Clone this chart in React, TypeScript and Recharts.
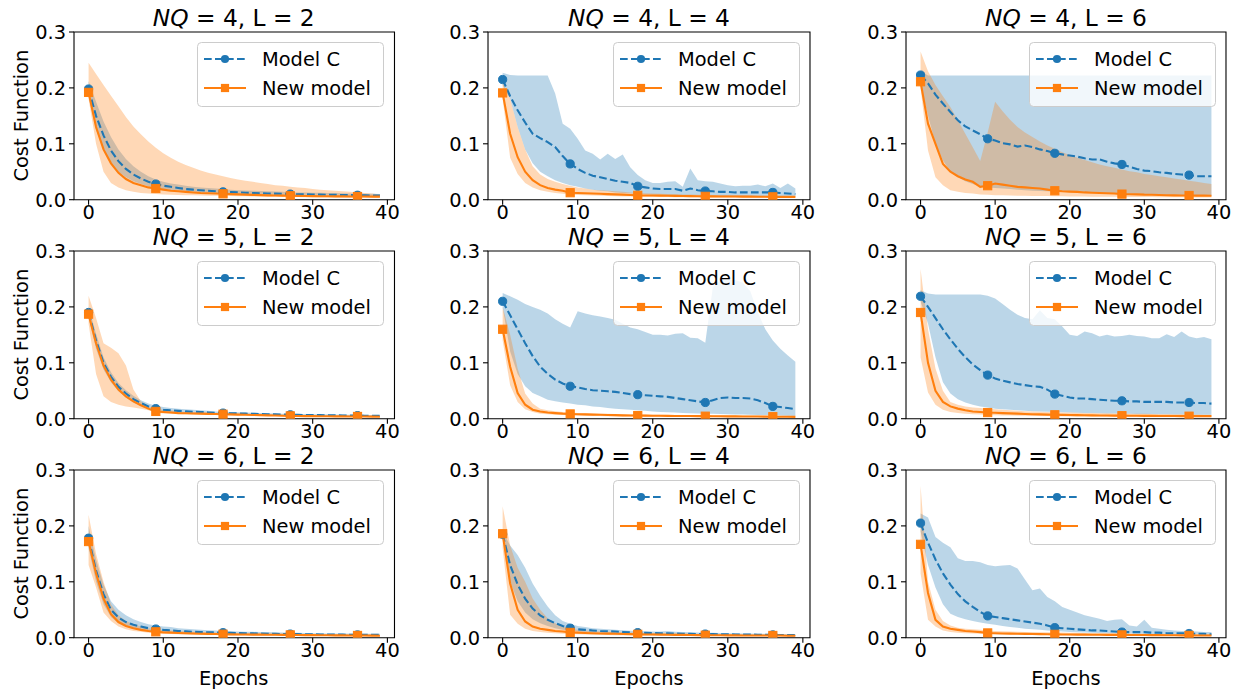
import React from 'react';
import { ComposedChart, Area, Line, XAxis, YAxis, ReferenceArea } from 'recharts';

// epochs shared by every panel
const epochs = [0, 1, 2, 3, 4, 5, 6, 7, 8, 9, 10, 11, 12, 13, 14, 15, 16, 17, 18, 19, 20, 21, 22, 23, 24, 25, 26, 27, 28, 29, 30, 31, 32, 33, 34, 35, 36, 37, 38, 39];
const xTicks = [0, 10, 20, 30, 40];
const yTicks = [0, 0.1, 0.2, 0.3];
const nqValues = [4, 5, 6];
const layerValues = [2, 4, 6];

// NQ = 4, L = 2
const c42 = [0.198, 0.150, 0.115, 0.088, 0.069, 0.055, 0.045, 0.038, 0.032, 0.028, 0.025, 0.023, 0.021, 0.019, 0.018, 0.017, 0.016, 0.015, 0.014, 0.0135, 0.013, 0.0125, 0.012, 0.0115, 0.011, 0.0108, 0.0105, 0.010, 0.0098, 0.0095, 0.0092, 0.009, 0.0088, 0.0086, 0.0084, 0.0082, 0.008, 0.0078, 0.0075, 0.0072];
const c42Lo = [0.185, 0.125, 0.09, 0.066, 0.05, 0.04, 0.033, 0.028, 0.024, 0.021, 0.019, 0.017, 0.016, 0.015, 0.014, 0.013, 0.012, 0.0115, 0.011, 0.0105, 0.010, 0.0098, 0.0095, 0.0092, 0.009, 0.0088, 0.0085, 0.0082, 0.008, 0.0078, 0.0076, 0.0074, 0.0072, 0.007, 0.0068, 0.0066, 0.0064, 0.0062, 0.006, 0.0058];
const c42Hi = [0.212, 0.175, 0.14, 0.112, 0.09, 0.073, 0.06, 0.05, 0.042, 0.036, 0.032, 0.029, 0.027, 0.025, 0.023, 0.022, 0.021, 0.02, 0.019, 0.018, 0.017, 0.0165, 0.016, 0.0155, 0.015, 0.0145, 0.014, 0.0135, 0.013, 0.0128, 0.0125, 0.0122, 0.012, 0.0118, 0.0115, 0.0112, 0.011, 0.0108, 0.0105, 0.0102];
const n42 = [0.192, 0.130, 0.090, 0.065, 0.048, 0.037, 0.030, 0.026, 0.022, 0.020, 0.018, 0.016, 0.015, 0.014, 0.013, 0.012, 0.0115, 0.011, 0.0105, 0.010, 0.0095, 0.009, 0.0086, 0.0082, 0.0078, 0.0075, 0.0072, 0.007, 0.0068, 0.0066, 0.0064, 0.0062, 0.0061, 0.006, 0.0059, 0.0058, 0.0057, 0.0056, 0.0055, 0.0054];
const n42Lo = [0.180, 0.100, 0.050, 0.030, 0.022, 0.017, 0.014, 0.012, 0.011, 0.010, 0.0095, 0.009, 0.0085, 0.008, 0.0078, 0.0075, 0.0072, 0.007, 0.0068, 0.0065, 0.0062, 0.006, 0.0058, 0.0056, 0.0054, 0.0052, 0.005, 0.0048, 0.0046, 0.0044, 0.0042, 0.004, 0.0039, 0.0038, 0.0037, 0.0036, 0.0035, 0.0034, 0.0033, 0.0032];
const n42Hi = [0.245, 0.225, 0.205, 0.186, 0.167, 0.148, 0.131, 0.117, 0.104, 0.093, 0.083, 0.075, 0.068, 0.062, 0.057, 0.052, 0.048, 0.045, 0.042, 0.039, 0.036, 0.034, 0.032, 0.030, 0.028, 0.026, 0.025, 0.023, 0.022, 0.021, 0.019, 0.018, 0.017, 0.016, 0.015, 0.014, 0.013, 0.012, 0.011, 0.0095];

// NQ = 4, L = 4
const c44 = [0.215, 0.185, 0.160, 0.138, 0.118, 0.110, 0.103, 0.094, 0.078, 0.064, 0.055, 0.048, 0.043, 0.040, 0.037, 0.034, 0.032, 0.030, 0.024, 0.022, 0.020, 0.019, 0.019, 0.019, 0.016, 0.020, 0.017, 0.0155, 0.015, 0.014, 0.014, 0.013, 0.013, 0.013, 0.013, 0.013, 0.013, 0.012, 0.011, 0.010];
const c44Lo = [0.205, 0.18, 0.13, 0.09, 0.065, 0.05, 0.042, 0.035, 0.03, 0.026, 0.023, 0.02, 0.018, 0.016, 0.015, 0.013, 0.012, 0.011, 0.010, 0.0095, 0.009, 0.0088, 0.0085, 0.0082, 0.008, 0.0078, 0.0075, 0.0072, 0.007, 0.0068, 0.0066, 0.0064, 0.0062, 0.006, 0.0058, 0.0056, 0.0055, 0.0054, 0.0053, 0.0052];
const c44Hi = [0.227, 0.223, 0.222, 0.222, 0.222, 0.222, 0.222, 0.19, 0.136, 0.127, 0.109, 0.088, 0.082, 0.072, 0.082, 0.073, 0.081, 0.058, 0.044, 0.035, 0.030, 0.030, 0.032, 0.033, 0.023, 0.056, 0.035, 0.033, 0.032, 0.029, 0.026, 0.024, 0.025, 0.025, 0.027, 0.024, 0.029, 0.021, 0.029, 0.020];
const n44 = [0.191, 0.118, 0.076, 0.050, 0.035, 0.026, 0.021, 0.018, 0.016, 0.0125, 0.012, 0.0115, 0.011, 0.0105, 0.010, 0.0095, 0.009, 0.0085, 0.0078, 0.0076, 0.0074, 0.0072, 0.007, 0.0068, 0.0066, 0.0064, 0.0062, 0.006, 0.0059, 0.0058, 0.0057, 0.0056, 0.0055, 0.0054, 0.0053, 0.0052, 0.0051, 0.005, 0.005, 0.005];
const n44Lo = [0.18, 0.075, 0.046, 0.03, 0.022, 0.017, 0.014, 0.012, 0.0105, 0.009, 0.0085, 0.008, 0.0075, 0.007, 0.0065, 0.006, 0.0058, 0.0056, 0.0054, 0.0052, 0.005, 0.0048, 0.0046, 0.0045, 0.0044, 0.0043, 0.0042, 0.0041, 0.004, 0.004, 0.0039, 0.0038, 0.0038, 0.0037, 0.0036, 0.0036, 0.0035, 0.0035, 0.0034, 0.0034];
const n44Hi = [0.21, 0.18, 0.13, 0.09, 0.06, 0.045, 0.037, 0.032, 0.028, 0.025, 0.022, 0.02, 0.018, 0.017, 0.016, 0.015, 0.014, 0.013, 0.012, 0.0115, 0.011, 0.0105, 0.01, 0.0098, 0.0095, 0.0092, 0.009, 0.0088, 0.0086, 0.0084, 0.0082, 0.008, 0.0078, 0.0076, 0.0074, 0.0072, 0.007, 0.0068, 0.0066, 0.0065];

// NQ = 4, L = 6
const c46 = [0.223, 0.208, 0.188, 0.172, 0.157, 0.142, 0.131, 0.124, 0.117, 0.109, 0.106, 0.101, 0.099, 0.095, 0.097, 0.094, 0.090, 0.087, 0.083, 0.081, 0.079, 0.077, 0.074, 0.072, 0.072, 0.068, 0.065, 0.063, 0.059, 0.055, 0.052, 0.051, 0.049, 0.048, 0.046, 0.045, 0.044, 0.042, 0.042, 0.042];
const c46Lo = [0.205, 0.15, 0.10, 0.07, 0.05, 0.04, 0.033, 0.028, 0.024, 0.022, 0.021, 0.02, 0.019, 0.018, 0.017, 0.016, 0.0155, 0.015, 0.0145, 0.014, 0.0135, 0.013, 0.0125, 0.012, 0.0115, 0.011, 0.0105, 0.010, 0.0098, 0.0095, 0.0092, 0.009, 0.0085, 0.008, 0.0078, 0.0075, 0.0072, 0.007, 0.0068, 0.0065];
const c46Hi = [0.23, 0.222, 0.222, 0.222, 0.222, 0.222, 0.222, 0.222, 0.222, 0.222, 0.222, 0.222, 0.222, 0.222, 0.222, 0.222, 0.222, 0.222, 0.222, 0.222, 0.222, 0.222, 0.222, 0.222, 0.222, 0.222, 0.222, 0.222, 0.222, 0.222, 0.222, 0.222, 0.222, 0.222, 0.222, 0.222, 0.222, 0.222, 0.222, 0.222];
const n46 = [0.211, 0.136, 0.100, 0.064, 0.050, 0.042, 0.036, 0.032, 0.023, 0.025, 0.029, 0.027, 0.025, 0.023, 0.022, 0.021, 0.020, 0.018, 0.016, 0.015, 0.0145, 0.014, 0.013, 0.0125, 0.012, 0.0115, 0.011, 0.010, 0.0098, 0.0095, 0.009, 0.0088, 0.0085, 0.008, 0.0078, 0.0076, 0.0075, 0.0073, 0.0072, 0.007];
const n46Lo = [0.2, 0.088, 0.04, 0.026, 0.017, 0.014, 0.012, 0.011, 0.0095, 0.0088, 0.008, 0.0078, 0.0075, 0.0072, 0.007, 0.0068, 0.0066, 0.0064, 0.0062, 0.006, 0.0058, 0.0056, 0.0055, 0.0054, 0.0053, 0.0052, 0.0051, 0.005, 0.0049, 0.0048, 0.0047, 0.0046, 0.0045, 0.0044, 0.0043, 0.0042, 0.0041, 0.004, 0.004, 0.004];
const n46Hi = [0.265, 0.23, 0.205, 0.185, 0.166, 0.142, 0.118, 0.094, 0.069, 0.12, 0.175, 0.158, 0.143, 0.13, 0.12, 0.112, 0.104, 0.097, 0.091, 0.085, 0.080, 0.075, 0.071, 0.067, 0.063, 0.060, 0.057, 0.054, 0.051, 0.049, 0.046, 0.044, 0.042, 0.040, 0.038, 0.036, 0.034, 0.032, 0.030, 0.028];

// NQ = 5, L = 2
const c52 = [0.19, 0.14, 0.10, 0.075, 0.057, 0.045, 0.035, 0.028, 0.022, 0.018, 0.016, 0.015, 0.014, 0.013, 0.0125, 0.012, 0.0112, 0.0105, 0.010, 0.0097, 0.0094, 0.009, 0.0087, 0.0083, 0.008, 0.0077, 0.0073, 0.007, 0.0068, 0.0066, 0.0065, 0.0063, 0.0061, 0.006, 0.0058, 0.0056, 0.0055, 0.0053, 0.0052, 0.005];
const c52Lo = [0.18, 0.125, 0.088, 0.065, 0.049, 0.038, 0.029, 0.023, 0.018, 0.014, 0.012, 0.011, 0.0105, 0.01, 0.0095, 0.009, 0.0085, 0.008, 0.0075, 0.0072, 0.007, 0.0068, 0.0066, 0.0064, 0.0062, 0.006, 0.0058, 0.0056, 0.0054, 0.0052, 0.005, 0.0049, 0.0048, 0.0047, 0.0046, 0.0045, 0.0044, 0.0043, 0.0042, 0.0041];
const c52Hi = [0.2, 0.152, 0.11, 0.083, 0.064, 0.051, 0.041, 0.033, 0.027, 0.023, 0.021, 0.019, 0.018, 0.017, 0.016, 0.015, 0.014, 0.013, 0.0125, 0.012, 0.0115, 0.011, 0.0105, 0.01, 0.0097, 0.0094, 0.009, 0.0087, 0.0085, 0.0083, 0.0081, 0.008, 0.0078, 0.0076, 0.0074, 0.0072, 0.007, 0.0068, 0.0066, 0.0065];
const n52 = [0.187, 0.135, 0.095, 0.070, 0.052, 0.040, 0.031, 0.024, 0.018, 0.013, 0.012, 0.011, 0.010, 0.0097, 0.0093, 0.009, 0.0087, 0.0083, 0.008, 0.0077, 0.0073, 0.007, 0.0067, 0.0063, 0.006, 0.0057, 0.0053, 0.005, 0.0048, 0.0046, 0.0045, 0.0044, 0.0043, 0.0042, 0.0041, 0.004, 0.004, 0.0038, 0.0037, 0.0035];
const n52Lo = [0.17, 0.08, 0.04, 0.03, 0.025, 0.022, 0.02, 0.018, 0.015, 0.011, 0.0095, 0.009, 0.0085, 0.008, 0.0075, 0.007, 0.0068, 0.0065, 0.0062, 0.006, 0.0058, 0.0055, 0.0052, 0.005, 0.0048, 0.0046, 0.0044, 0.0042, 0.004, 0.0039, 0.0038, 0.0037, 0.0036, 0.0035, 0.0034, 0.0033, 0.0032, 0.0031, 0.003, 0.003];
const n52Hi = [0.22, 0.18, 0.135, 0.127, 0.117, 0.095, 0.052, 0.031, 0.022, 0.018, 0.016, 0.015, 0.013, 0.012, 0.0115, 0.011, 0.0105, 0.01, 0.0095, 0.009, 0.0087, 0.0084, 0.0081, 0.0078, 0.0075, 0.0072, 0.007, 0.0068, 0.0066, 0.0064, 0.0062, 0.006, 0.0058, 0.0056, 0.0055, 0.0054, 0.0053, 0.0052, 0.0051, 0.005];

// NQ = 5, L = 4
const c54 = [0.21, 0.185, 0.16, 0.135, 0.112, 0.093, 0.08, 0.07, 0.063, 0.058, 0.056, 0.053, 0.051, 0.050, 0.049, 0.048, 0.046, 0.044, 0.043, 0.042, 0.041, 0.040, 0.039, 0.037, 0.035, 0.033, 0.031, 0.029, 0.033, 0.037, 0.038, 0.037, 0.037, 0.036, 0.033, 0.028, 0.022, 0.021, 0.019, 0.017];
const c54Lo = [0.2, 0.12, 0.08, 0.058, 0.046, 0.04, 0.034, 0.031, 0.029, 0.027, 0.025, 0.024, 0.022, 0.021, 0.019, 0.018, 0.017, 0.016, 0.015, 0.014, 0.013, 0.012, 0.0115, 0.011, 0.01, 0.0097, 0.0094, 0.009, 0.0087, 0.0084, 0.008, 0.0077, 0.0074, 0.007, 0.0067, 0.0064, 0.006, 0.0057, 0.0054, 0.005];
const c54Hi = [0.225, 0.219, 0.213, 0.205, 0.20, 0.195, 0.188, 0.178, 0.17, 0.163, 0.192, 0.188, 0.185, 0.183, 0.18, 0.177, 0.17, 0.163, 0.16, 0.155, 0.15, 0.15, 0.149, 0.152, 0.153, 0.145, 0.144, 0.136, 0.235, 0.248, 0.248, 0.248, 0.243, 0.228, 0.19, 0.16, 0.14, 0.125, 0.113, 0.102];
const n54 = [0.16, 0.093, 0.046, 0.025, 0.016, 0.013, 0.011, 0.010, 0.009, 0.0085, 0.008, 0.0077, 0.0073, 0.007, 0.0067, 0.0064, 0.006, 0.0058, 0.0056, 0.0055, 0.0053, 0.0052, 0.005, 0.0049, 0.0048, 0.0047, 0.0046, 0.0045, 0.0044, 0.0043, 0.0042, 0.0041, 0.004, 0.0039, 0.0038, 0.0037, 0.0036, 0.0035, 0.0034, 0.0033];
const n54Lo = [0.14, 0.06, 0.03, 0.017, 0.012, 0.009, 0.008, 0.007, 0.0065, 0.006, 0.0055, 0.005, 0.0048, 0.0046, 0.0044, 0.0042, 0.004, 0.0038, 0.0036, 0.0035, 0.0034, 0.0033, 0.0032, 0.0031, 0.003, 0.003, 0.0029, 0.0028, 0.0028, 0.0027, 0.0026, 0.0026, 0.0025, 0.0025, 0.0024, 0.0024, 0.0023, 0.0023, 0.0022, 0.0022];
const n54Hi = [0.2, 0.15, 0.09, 0.045, 0.027, 0.018, 0.015, 0.0135, 0.012, 0.011, 0.010, 0.0097, 0.0094, 0.009, 0.0087, 0.0084, 0.008, 0.0078, 0.0076, 0.0074, 0.0072, 0.007, 0.0068, 0.0066, 0.0065, 0.0064, 0.0063, 0.0062, 0.0061, 0.006, 0.0059, 0.0058, 0.0057, 0.0056, 0.0055, 0.0054, 0.0053, 0.0052, 0.0051, 0.005];

// NQ = 5, L = 6
const c56 = [0.219, 0.20, 0.18, 0.16, 0.142, 0.125, 0.11, 0.097, 0.087, 0.078, 0.072, 0.068, 0.065, 0.062, 0.060, 0.058, 0.057, 0.052, 0.044, 0.041, 0.038, 0.036, 0.036, 0.035, 0.034, 0.033, 0.032, 0.032, 0.031, 0.031, 0.030, 0.030, 0.030, 0.030, 0.029, 0.029, 0.029, 0.028, 0.028, 0.027];
const c56Lo = [0.21, 0.17, 0.11, 0.065, 0.045, 0.035, 0.029, 0.025, 0.022, 0.02, 0.018, 0.017, 0.016, 0.015, 0.014, 0.0135, 0.013, 0.0125, 0.012, 0.0115, 0.011, 0.0105, 0.010, 0.01, 0.0098, 0.0095, 0.0093, 0.009, 0.0088, 0.0086, 0.0084, 0.0082, 0.008, 0.0078, 0.0076, 0.0074, 0.0072, 0.007, 0.007, 0.007];
const c56Hi = [0.23, 0.224, 0.222, 0.222, 0.222, 0.222, 0.222, 0.222, 0.222, 0.22, 0.215, 0.205, 0.195, 0.186, 0.18, 0.178, 0.194, 0.18, 0.178, 0.165, 0.150, 0.148, 0.156, 0.153, 0.147, 0.150, 0.147, 0.148, 0.150, 0.148, 0.147, 0.144, 0.144, 0.151, 0.146, 0.156, 0.147, 0.144, 0.146, 0.142];
const n56 = [0.19, 0.10, 0.05, 0.03, 0.022, 0.018, 0.015, 0.013, 0.012, 0.011, 0.0105, 0.01, 0.0095, 0.009, 0.0085, 0.008, 0.0077, 0.0073, 0.007, 0.0068, 0.0066, 0.0064, 0.0062, 0.006, 0.0058, 0.0056, 0.0055, 0.0054, 0.0053, 0.0052, 0.0051, 0.005, 0.0049, 0.0048, 0.0047, 0.0046, 0.0045, 0.0045, 0.0045, 0.0045];
const n56Lo = [0.11, 0.047, 0.025, 0.016, 0.012, 0.010, 0.009, 0.008, 0.0073, 0.0067, 0.006, 0.0058, 0.0056, 0.0054, 0.0052, 0.005, 0.0048, 0.0046, 0.0044, 0.0042, 0.004, 0.004, 0.0039, 0.0038, 0.0037, 0.0036, 0.0035, 0.0035, 0.0034, 0.0034, 0.0033, 0.0033, 0.0032, 0.0032, 0.0031, 0.0031, 0.003, 0.003, 0.003, 0.003];
const n56Hi = [0.268, 0.16, 0.09, 0.05, 0.03, 0.025, 0.022, 0.02, 0.019, 0.018, 0.017, 0.016, 0.015, 0.014, 0.0135, 0.013, 0.0125, 0.012, 0.0115, 0.011, 0.011, 0.0105, 0.0103, 0.01, 0.0098, 0.0096, 0.0094, 0.0092, 0.009, 0.009, 0.0088, 0.0086, 0.0084, 0.0082, 0.008, 0.0078, 0.0076, 0.0074, 0.0072, 0.007];

// NQ = 6, L = 2
const c62 = [0.178, 0.12, 0.078, 0.05, 0.036, 0.028, 0.023, 0.02, 0.017, 0.0155, 0.014, 0.013, 0.012, 0.0113, 0.0106, 0.010, 0.0097, 0.0094, 0.009, 0.0087, 0.0084, 0.008, 0.0077, 0.0074, 0.007, 0.0068, 0.0066, 0.0065, 0.0063, 0.0061, 0.006, 0.0058, 0.0057, 0.0055, 0.0054, 0.0052, 0.005, 0.005, 0.005, 0.005];
const c62Lo = [0.16, 0.10, 0.06, 0.037, 0.026, 0.02, 0.016, 0.014, 0.012, 0.011, 0.010, 0.0095, 0.009, 0.0085, 0.008, 0.0078, 0.0075, 0.0072, 0.007, 0.0068, 0.0066, 0.0064, 0.0062, 0.006, 0.0058, 0.0056, 0.0054, 0.0052, 0.0051, 0.005, 0.005, 0.0048, 0.0047, 0.0046, 0.0045, 0.0044, 0.0043, 0.0042, 0.0041, 0.004];
const c62Hi = [0.2, 0.14, 0.095, 0.065, 0.05, 0.04, 0.033, 0.028, 0.024, 0.022, 0.02, 0.019, 0.017, 0.016, 0.015, 0.014, 0.0135, 0.013, 0.012, 0.0115, 0.011, 0.0108, 0.0105, 0.0102, 0.01, 0.0097, 0.0094, 0.0091, 0.0088, 0.0085, 0.008, 0.0078, 0.0076, 0.0075, 0.0074, 0.0073, 0.0072, 0.0071, 0.007, 0.007];
const n62 = [0.172, 0.115, 0.07, 0.042, 0.028, 0.021, 0.017, 0.014, 0.012, 0.0105, 0.0095, 0.009, 0.0085, 0.008, 0.0075, 0.007, 0.0068, 0.0065, 0.0062, 0.006, 0.0058, 0.0056, 0.0055, 0.0054, 0.0053, 0.0052, 0.0051, 0.005, 0.0048, 0.0046, 0.0045, 0.0044, 0.0043, 0.0042, 0.0041, 0.004, 0.004, 0.0038, 0.0037, 0.0035];
const n62Lo = [0.13, 0.09, 0.045, 0.03, 0.02, 0.015, 0.012, 0.0105, 0.009, 0.008, 0.007, 0.0065, 0.006, 0.0057, 0.0054, 0.005, 0.0048, 0.0046, 0.0044, 0.0042, 0.004, 0.0039, 0.0038, 0.0037, 0.0036, 0.0035, 0.0034, 0.0033, 0.0032, 0.0031, 0.003, 0.0029, 0.0028, 0.0027, 0.0026, 0.0025, 0.0024, 0.0023, 0.0022, 0.002];
const n62Hi = [0.22, 0.15, 0.10, 0.06, 0.04, 0.03, 0.024, 0.02, 0.017, 0.015, 0.0135, 0.013, 0.012, 0.0113, 0.0106, 0.010, 0.0097, 0.0094, 0.009, 0.0087, 0.0084, 0.008, 0.0078, 0.0076, 0.0074, 0.0072, 0.007, 0.0068, 0.0066, 0.0064, 0.0062, 0.006, 0.0058, 0.0056, 0.0055, 0.0054, 0.0053, 0.0052, 0.0051, 0.005];

// NQ = 6, L = 4
const c64 = [0.185, 0.13, 0.095, 0.07, 0.052, 0.04, 0.032, 0.026, 0.021, 0.017, 0.015, 0.014, 0.013, 0.012, 0.0115, 0.011, 0.0103, 0.0096, 0.009, 0.0087, 0.0083, 0.008, 0.0077, 0.0073, 0.007, 0.0068, 0.0066, 0.0065, 0.0063, 0.0061, 0.006, 0.0058, 0.0057, 0.0055, 0.0053, 0.0052, 0.005, 0.0048, 0.0046, 0.0045];
const c64Lo = [0.18, 0.1, 0.065, 0.045, 0.033, 0.026, 0.021, 0.017, 0.014, 0.012, 0.011, 0.010, 0.0095, 0.009, 0.0085, 0.008, 0.0076, 0.0072, 0.0068, 0.0065, 0.0062, 0.006, 0.0058, 0.0056, 0.0054, 0.0053, 0.0052, 0.0051, 0.005, 0.005, 0.0048, 0.0047, 0.0046, 0.0045, 0.0044, 0.0043, 0.0042, 0.0041, 0.004, 0.004];
const c64Hi = [0.19, 0.165, 0.148, 0.125, 0.097, 0.075, 0.056, 0.04, 0.03, 0.025, 0.021, 0.019, 0.017, 0.016, 0.015, 0.014, 0.0133, 0.0126, 0.012, 0.0115, 0.011, 0.011, 0.012, 0.0105, 0.01, 0.0097, 0.0094, 0.009, 0.0087, 0.0084, 0.008, 0.0078, 0.0076, 0.0074, 0.0072, 0.007, 0.0068, 0.0066, 0.0063, 0.006];
const n64 = [0.186, 0.097, 0.05, 0.029, 0.02, 0.016, 0.014, 0.012, 0.011, 0.0095, 0.009, 0.0085, 0.008, 0.0075, 0.0072, 0.007, 0.0067, 0.0063, 0.006, 0.0058, 0.0056, 0.0055, 0.0053, 0.0051, 0.005, 0.0048, 0.0046, 0.0045, 0.0044, 0.0043, 0.0042, 0.0041, 0.004, 0.004, 0.004, 0.004, 0.004, 0.0038, 0.0036, 0.0035];
const n64Lo = [0.16, 0.041, 0.025, 0.016, 0.012, 0.01, 0.009, 0.008, 0.007, 0.0065, 0.006, 0.0057, 0.0054, 0.0051, 0.0048, 0.0045, 0.0044, 0.0043, 0.0042, 0.0041, 0.004, 0.0038, 0.0036, 0.0035, 0.0034, 0.0033, 0.0032, 0.0031, 0.003, 0.003, 0.003, 0.0028, 0.0027, 0.0026, 0.0025, 0.0024, 0.0023, 0.0022, 0.0021, 0.002];
const n64Hi = [0.235, 0.165, 0.125, 0.10, 0.07, 0.05, 0.035, 0.026, 0.02, 0.016, 0.014, 0.013, 0.012, 0.011, 0.0105, 0.01, 0.0096, 0.0092, 0.0088, 0.0084, 0.008, 0.0078, 0.0076, 0.0074, 0.0072, 0.007, 0.0068, 0.0066, 0.0064, 0.0062, 0.006, 0.0058, 0.0057, 0.0056, 0.0055, 0.0054, 0.0053, 0.0052, 0.0051, 0.005];

// NQ = 6, L = 6
const c66 = [0.205, 0.17, 0.14, 0.115, 0.095, 0.078, 0.065, 0.055, 0.046, 0.039, 0.037, 0.035, 0.033, 0.031, 0.029, 0.027, 0.025, 0.022, 0.018, 0.017, 0.016, 0.015, 0.014, 0.013, 0.013, 0.012, 0.011, 0.010, 0.010, 0.010, 0.010, 0.009, 0.009, 0.008, 0.008, 0.008, 0.0075, 0.007, 0.007, 0.006];
const c66Lo = [0.19, 0.13, 0.09, 0.06, 0.043, 0.037, 0.033, 0.03, 0.027, 0.025, 0.023, 0.021, 0.019, 0.018, 0.016, 0.015, 0.014, 0.013, 0.012, 0.011, 0.010, 0.0097, 0.0093, 0.009, 0.0085, 0.008, 0.0078, 0.0076, 0.0074, 0.0072, 0.007, 0.0068, 0.0066, 0.0064, 0.0062, 0.006, 0.0058, 0.0056, 0.0053, 0.005];
const c66Hi = [0.222, 0.215, 0.18, 0.17, 0.162, 0.142, 0.137, 0.137, 0.135, 0.13, 0.128, 0.129, 0.13, 0.124, 0.104, 0.085, 0.088, 0.073, 0.065, 0.055, 0.05, 0.045, 0.04, 0.037, 0.034, 0.03, 0.032, 0.033, 0.022, 0.02, 0.032, 0.018, 0.016, 0.014, 0.013, 0.012, 0.012, 0.011, 0.01, 0.01];
const n66 = [0.167, 0.08, 0.032, 0.02, 0.016, 0.014, 0.012, 0.011, 0.01, 0.0085, 0.008, 0.0076, 0.0072, 0.007, 0.0068, 0.0066, 0.0064, 0.0062, 0.006, 0.0058, 0.0056, 0.0055, 0.0054, 0.0053, 0.0052, 0.0051, 0.005, 0.005, 0.0049, 0.0048, 0.0047, 0.0046, 0.0045, 0.0044, 0.0043, 0.0042, 0.0041, 0.004, 0.004, 0.004];
const n66Lo = [0.115, 0.032, 0.02, 0.013, 0.01, 0.009, 0.008, 0.0075, 0.007, 0.0065, 0.006, 0.0058, 0.0056, 0.0054, 0.0052, 0.005, 0.0048, 0.0046, 0.0044, 0.0042, 0.004, 0.004, 0.0039, 0.0038, 0.0037, 0.0036, 0.0035, 0.0035, 0.0034, 0.0034, 0.0033, 0.0033, 0.0032, 0.0032, 0.0031, 0.0031, 0.003, 0.003, 0.003, 0.003];
const n66Hi = [0.272, 0.1, 0.05, 0.03, 0.022, 0.018, 0.016, 0.015, 0.014, 0.013, 0.012, 0.0115, 0.011, 0.0105, 0.0102, 0.01, 0.0098, 0.0096, 0.0094, 0.0092, 0.009, 0.0088, 0.0086, 0.0084, 0.0082, 0.008, 0.0078, 0.0076, 0.0074, 0.0072, 0.007, 0.0068, 0.0067, 0.0066, 0.0065, 0.0064, 0.0063, 0.0062, 0.0061, 0.006];

const panelSeries = [
  [c42, c42Lo, c42Hi, n42, n42Lo, n42Hi],
  [c44, c44Lo, c44Hi, n44, n44Lo, n44Hi],
  [c46, c46Lo, c46Hi, n46, n46Lo, n46Hi],
  [c52, c52Lo, c52Hi, n52, n52Lo, n52Hi],
  [c54, c54Lo, c54Hi, n54, n54Lo, n54Hi],
  [c56, c56Lo, c56Hi, n56, n56Lo, n56Hi],
  [c62, c62Lo, c62Hi, n62, n62Lo, n62Hi],
  [c64, c64Lo, c64Hi, n64, n64Lo, n64Hi],
  [c66, c66Lo, c66Hi, n66, n66Lo, n66Hi],
];

const FONT = '"DejaVu Sans", Verdana, sans-serif';
const BLUE = '#1f77b4';
const ORANGE = '#ff7f0e';
const TICK_FS = 19.4;
const TITLE_FS = 23.3;

// plot-area geometry (matplotlib subplot grid)
const colLeft = [73.5, 488, 906];
const colWidth = [320.5, 322, 320];
const rowTop = [31.7, 250.7, 469.5];
const PLOT_H = 167.7;
const Y_W = 60;
const X_H = 32;
const M_T = 14;
const M_R = 14;
const X_DOMAIN = [-1.95, 40.95];

const CircleDot = (props: any) => {
  const { cx, cy, index } = props;
  if (index % 9 !== 0 || cx == null) return <g key={`cd-${index}`} />;
  return <circle key={`cd-${index}`} cx={cx} cy={cy} r={4.1} fill={BLUE} stroke={BLUE} strokeWidth={1} />;
};

const SquareDot = (props: any) => {
  const { cx, cy, index } = props;
  if (index % 9 !== 0 || cx == null) return <g key={`sd-${index}`} />;
  return <rect key={`sd-${index}`} x={cx - 4.1} y={cy - 4.1} width={8.2} height={8.2} fill={ORANGE} stroke={ORANGE} strokeWidth={1} />;
};

function LegendBox({ right, top }: { right: number; top: number }) {
  const W = 187;
  const H = 65;
  return (
    <svg style={{ position: 'absolute', left: right - W, top, overflow: 'visible' }} width={W} height={H}>
      <rect x={0.5} y={0.5} width={W - 1} height={H - 1} rx={4} fill="#ffffff" fillOpacity={0.8} stroke="#cccccc" strokeWidth={1} />
      <line x1={7} x2={49} y1={17} y2={17} stroke={BLUE} strokeWidth={2.1} strokeDasharray="7.7 3.3" />
      <circle cx={28} cy={17} r={4.1} fill={BLUE} />
      <text x={65} y={17} dominantBaseline="central" fontFamily={FONT} fontSize={TICK_FS} fill="#000">Model C</text>
      <line x1={7} x2={49} y1={46} y2={46} stroke={ORANGE} strokeWidth={2.1} />
      <rect x={23.9} y={41.9} width={8.2} height={8.2} fill={ORANGE} />
      <text x={65} y={46} dominantBaseline="central" fontFamily={FONT} fontSize={TICK_FS} fill="#000">New model</text>
    </svg>
  );
}

function Panel({ row, col }: { row: number; col: number }) {
  const [c, cLo, cHi, n, nLo, nHi] = panelSeries[row * 3 + col];
  const left = colLeft[col];
  const top = rowTop[row];
  const w = colWidth[col];
  const data = epochs.map((e, i) => ({
    epoch: e,
    c: c[i],
    cBand: [cLo[i], cHi[i]],
    n: n[i],
    nBand: [nLo[i], nHi[i]],
  }));
  const tickStyle = { fill: '#000', fontSize: TICK_FS, fontFamily: FONT };
  // title sits just above the axes, kept clear of the tick labels of the row above
  const titleBaseline = top - 5;
  return (
    <>
      <div
        style={{
          position: 'absolute', left, top: titleBaseline - 0.696 * TITLE_FS, width: w, height: 0.7 * TITLE_FS,
          textAlign: 'center', fontSize: TITLE_FS, lineHeight: 0.7, whiteSpace: 'nowrap', color: '#000',
        }}
      >
        <span style={{ fontStyle: 'italic' }}>NQ</span> = {nqValues[row]}, L = {layerValues[col]}
      </div>
      <div style={{ position: 'absolute', left: left - Y_W, top: top - M_T }}>
        <ComposedChart
          width={Y_W + w + M_R}
          height={M_T + PLOT_H + X_H}
          data={data}
          margin={{ top: M_T, right: M_R, bottom: 0, left: 0 }}
        >
          <XAxis
            dataKey="epoch"
            type="number"
            domain={X_DOMAIN}
            allowDataOverflow
            ticks={xTicks}
            interval={0}
            height={X_H}
            axisLine={false}
            tickLine={{ stroke: '#000', strokeWidth: 1.1 }}
            tickSize={5}
            tickMargin={1}
            tick={tickStyle}
          />
          <YAxis
            type="number"
            domain={[0, 0.3]}
            allowDataOverflow
            ticks={yTicks}
            interval={0}
            width={Y_W}
            axisLine={false}
            tickLine={{ stroke: '#000', strokeWidth: 1.1 }}
            tickSize={5}
            tickMargin={3}
            tick={tickStyle}
            tickFormatter={(v: number) => v.toFixed(1)}
          />
          <Area type="linear" dataKey="cBand" stroke="none" fill={BLUE} fillOpacity={0.3} isAnimationActive={false} activeDot={false} />
          <Area type="linear" dataKey="nBand" stroke="none" fill={ORANGE} fillOpacity={0.3} isAnimationActive={false} activeDot={false} />
          <Line
            type="linear"
            dataKey="c"
            stroke={BLUE}
            strokeWidth={2.1}
            strokeDasharray="7.7 3.3"
            dot={CircleDot}
            activeDot={false}
            isAnimationActive={false}
          />
          <Line
            type="linear"
            dataKey="n"
            stroke={ORANGE}
            strokeWidth={2.1}
            dot={SquareDot}
            activeDot={false}
            isAnimationActive={false}
          />
          <ReferenceArea x1={X_DOMAIN[0]} x2={X_DOMAIN[1]} y1={0} y2={0.3} fill="none" fillOpacity={0} stroke="#000" strokeWidth={1.1} />
        </ComposedChart>
      </div>
      <LegendBox right={left + w - 10} top={top + 10} />
      {col === 0 && (
        <div
          style={{
            position: 'absolute', left: 21.6 - 100, top: top + PLOT_H / 2 - TICK_FS / 2, width: 200, height: TICK_FS,
            lineHeight: 1, fontSize: TICK_FS, textAlign: 'center', transform: 'rotate(-90deg)', whiteSpace: 'nowrap', color: '#000',
          }}
        >
          Cost Function
        </div>
      )}
      {row === 2 && (
        <div
          style={{
            position: 'absolute', left, top: 685 - 0.846 * TICK_FS, width: w, textAlign: 'center',
            fontSize: TICK_FS, lineHeight: 1, color: '#000',
          }}
        >
          Epochs
        </div>
      )}
    </>
  );
}

export default function App() {
  return (
    <div style={{ position: 'absolute', left: 0, top: 0, width: 1246, height: 692, background: '#fff', fontFamily: FONT, overflow: 'hidden' }}>
      {[0, 1, 2].map((row) => [0, 1, 2].map((col) => <Panel key={`${row}-${col}`} row={row} col={col} />))}
    </div>
  );
}
